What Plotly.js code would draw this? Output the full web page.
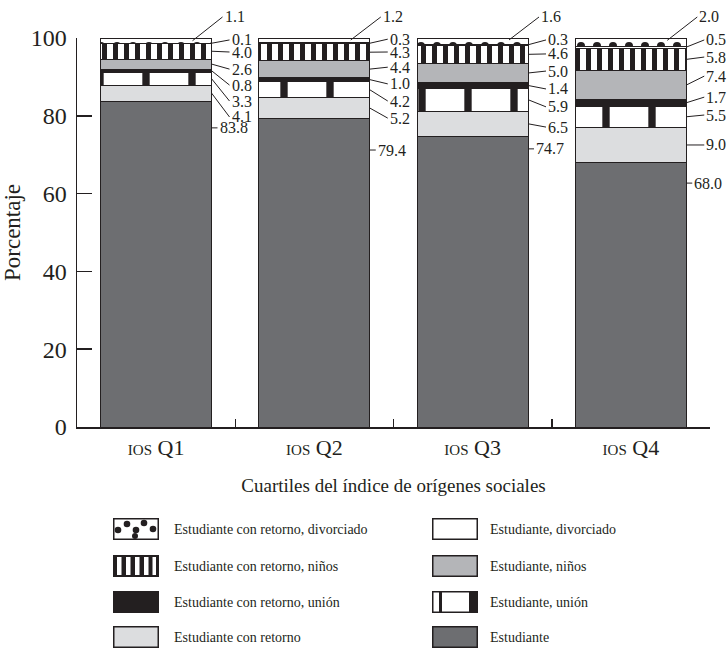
<!DOCTYPE html>
<html>
<head>
<meta charset="utf-8">
<script src="https://cdn.plot.ly/plotly-3.0.1.min.js"></script>
<style>body{margin:0;background:#fff;} #chart{width:727px;height:649px;}</style>
</head>
<body>
<div id="chart"></div>
<script>
// ---- data ----
const categories = ["Q1", "Q2", "Q3", "Q4"];
const tickLabels = ["<span style='font-size:15px'>IOS</span> Q1", "<span style='font-size:15px'>IOS</span> Q2", "<span style='font-size:15px'>IOS</span> Q3", "<span style='font-size:15px'>IOS</span> Q4"];
const estudiante        = [83.8, 79.4, 74.7, 68.0];
const conRetorno        = [4.1, 5.2, 6.5, 9.0];
const union             = [3.3, 4.2, 5.9, 5.5];
const conRetornoUnion   = [0.8, 1.0, 1.4, 1.7];
const ninos             = [2.6, 4.4, 5.0, 7.4];
const conRetornoNinos   = [4.0, 4.3, 4.6, 5.8];
const divorciado        = [0.1, 0.3, 0.3, 0.5];
const conRetornoDiv     = [1.1, 1.2, 1.6, 2.0];

const seriesNames = [
  "Estudiante", "Estudiante con retorno", "Estudiante, unión", "Estudiante con retorno, unión",
  "Estudiante, niños", "Estudiante con retorno, niños", "Estudiante, divorciado", "Estudiante con retorno, divorciado"
];
const seriesValues = [estudiante, conRetorno, union, conRetornoUnion, ninos, conRetornoNinos, divorciado, conRetornoDiv];

// ---- styles (bottom to top); col = legend column, row = legend row ----
const K = "#231f20";
const styles = [
  {color: "#6d6e71", col: 1, row: 3},
  {color: "#dcdddf", col: 0, row: 3},
  {color: "#ffffff", col: 1, row: 2, pattern: {shape: "|", fgcolor: K, bgcolor: "#ffffff", fgopacity: 1, size: 46, solidity: 0.16, fillmode: "replace"}},
  {color: K,         col: 0, row: 2},
  {color: "#b4b5b8", col: 1, row: 1},
  {color: "#ffffff", col: 0, row: 1, pattern: {shape: "|", fgcolor: K, bgcolor: "#ffffff", fgopacity: 1, size: 11, solidity: 0.45, fillmode: "replace"}},
  {color: "#ffffff", col: 1, row: 0},
  {color: "#ffffff", col: 0, row: 0, pattern: {shape: ".", fgcolor: K, bgcolor: "#ffffff", fgopacity: 1, size: 16, solidity: 0.2, fillmode: "replace"}}
];

// legend swatches (SVG), same order as styles
const swatchSvg = [
  "<rect x='0.75' y='0.75' width='44.5' height='20.5' fill='#6d6e71' stroke='" + K + "' stroke-width='1.5'/>",
  "<rect x='0.75' y='0.75' width='44.5' height='20.5' fill='#dcdddf' stroke='" + K + "' stroke-width='1.5'/>",
  "<rect x='0.75' y='0.75' width='44.5' height='20.5' fill='#fff' stroke='" + K + "' stroke-width='1.5'/><rect x='7' y='0' width='3' height='22' fill='" + K + "'/><rect x='37' y='0' width='9' height='22' fill='" + K + "'/>",
  "<rect x='0' y='0' width='46' height='22' fill='" + K + "'/>",
  "<rect x='0.75' y='0.75' width='44.5' height='20.5' fill='#b4b5b8' stroke='" + K + "' stroke-width='1.5'/>",
  "<rect x='0' y='0' width='46' height='22' fill='" + K + "'/><rect x='4' y='2' width='4.5' height='18' fill='#fff'/><rect x='13' y='2' width='4.5' height='18' fill='#fff'/><rect x='22' y='2' width='4.5' height='18' fill='#fff'/><rect x='31' y='2' width='4.5' height='18' fill='#fff'/><rect x='39.5' y='2' width='3.5' height='18' fill='#fff'/>",
  "<rect x='0.75' y='0.75' width='44.5' height='20.5' fill='#fff' stroke='" + K + "' stroke-width='1.5'/>",
  "<rect x='0.75' y='0.75' width='44.5' height='20.5' fill='#fff' stroke='" + K + "' stroke-width='1.5'/><circle cx='5' cy='12' r='3.3' fill='" + K + "'/><circle cx='14' cy='6' r='3.3' fill='" + K + "'/><circle cx='23' cy='12' r='3.3' fill='" + K + "'/><circle cx='22' cy='18' r='3' fill='" + K + "'/><circle cx='31' cy='5' r='3.3' fill='" + K + "'/><circle cx='40' cy='11' r='3.3' fill='" + K + "'/>"
];

// label layout: label text y-positions (data units) per series per bar
const labelY = [
  [76.9, 71.2, 71.5, 62.7],
  [79.7, 79.4, 77.1, 72.5],
  [83.8, 83.8, 82.3, 80.2],
  [87.9, 88.2, 86.9, 84.8],
  [92.0, 92.5, 91.5, 90.2],
  [96.4, 96.4, 95.9, 95.1],
  [99.5, 99.7, 99.5, 99.5],
  [105.4, 105.4, 105.4, 105.4]
];
const barWidth = 0.7;
const FONT = "Liberation Serif, Times New Roman, serif";

const traces = seriesValues.map((vals, i) => {
  const st = styles[i];
  const marker = {color: st.color, line: {color: K, width: 1}};
  if (st.pattern) marker.pattern = st.pattern;
  return {
    type: "bar", x: categories, y: vals, name: seriesNames[i],
    marker: marker, width: barWidth, showlegend: false,
    hoverinfo: "name+y"
  };
});

// annotations for value labels
const annotations = [];
categories.forEach((c, j) => {
  let cum = 0;
  seriesValues.forEach((vals, i) => {
    const v = vals[j];
    const mid = cum + v / 2;
    const top = cum + v;
    cum += v;
    let tipX = j + barWidth / 2;
    let tipY = mid;
    let ax = 18;
    if (i === 0) { tipY = labelY[i][j]; ax = 6; }
    if (i === seriesValues.length - 1) { tipX = j + barWidth / 2 - 0.12; tipY = top - 0.5; ax = 30; }
    annotations.push({
      x: tipX, y: tipY, xref: "x", yref: "y",
      text: v.toFixed(1), showarrow: true, arrowhead: 0, arrowwidth: 1, arrowcolor: K,
      axref: "pixel", ayref: "y", ax: ax, ay: labelY[i][j],
      xanchor: "left", yanchor: "middle", standoff: 0, startstandoff: 0,
      font: {family: FONT, size: 16, color: K}
    });
  });
});

// plot area geometry (pixels) for placing legend pieces in paper fractions
const W = 727, H = 649;
const M = {l: 77, r: 17, t: 38, b: 222};
const PW = W - M.l - M.r, PH = H - M.t - M.b;
const px2x = px => (px - M.l) / PW;
const py2y = py => (H - M.b - py) / PH;

const rowCenters = [529, 566, 602, 637];
const swatchLeft = [113, 432];
const textLeft = [172, 488];
const images = styles.map((st, i) => {
  const svg = "<svg xmlns='http://www.w3.org/2000/svg' width='46' height='22' viewBox='0 0 46 22' preserveAspectRatio='none'>" + swatchSvg[i] + "</svg>";
  return {
    source: "data:image/svg+xml;charset=utf-8," + encodeURIComponent(svg),
    xref: "paper", yref: "paper",
    x: px2x(swatchLeft[st.col]), y: py2y(rowCenters[st.row] - 11),
    sizex: 46 / PW, sizey: 22 / PH, sizing: "stretch",
    xanchor: "left", yanchor: "top", layer: "above"
  };
});
styles.forEach((st, i) => {
  annotations.push({
    xref: "paper", yref: "paper", x: px2x(textLeft[st.col]), y: py2y(rowCenters[st.row]),
    xanchor: "left", yanchor: "middle", showarrow: false,
    text: seriesNames[i], font: {family: FONT, size: 14, color: K}
  });
});

const layout = {
  width: W, height: H,
  margin: {l: M.l, r: M.r, t: M.t, b: M.b, autoexpand: false},
  paper_bgcolor: "#ffffff", plot_bgcolor: "#ffffff",
  barmode: "stack",
  font: {family: FONT, color: K},
  showlegend: false,
  xaxis: {
    type: "category", range: [-0.5, 3.5], tickvals: categories, ticktext: tickLabels,
    showline: true, linecolor: K, linewidth: 1.5,
    ticks: "inside", tickson: "boundaries", ticklen: 8, tickcolor: K, tickwidth: 1.5,
    tickfont: {family: FONT, size: 22, color: K},
    showgrid: false, zeroline: false, automargin: false,
    title: {text: "Cuartiles del índice de orígenes sociales", font: {family: FONT, size: 19, color: K}, standoff: 20}
  },
  yaxis: {
    range: [0, 100], tickvals: [0, 20, 40, 60, 80, 100],
    showline: true, linecolor: K, linewidth: 1.5,
    ticks: "inside", ticklen: 15, tickcolor: K, tickwidth: 1.5,
    tickfont: {family: FONT, size: 24, color: K},
    ticklabelstandoff: 4,
    showgrid: false, zeroline: false, automargin: false,
    title: {text: "Porcentaje", font: {family: FONT, size: 23, color: K}, standoff: 8}
  },
  annotations: annotations,
  images: images
};

Plotly.newPlot("chart", traces, layout, {displayModeBar: false, staticPlot: true});
</script>
</body>
</html>
